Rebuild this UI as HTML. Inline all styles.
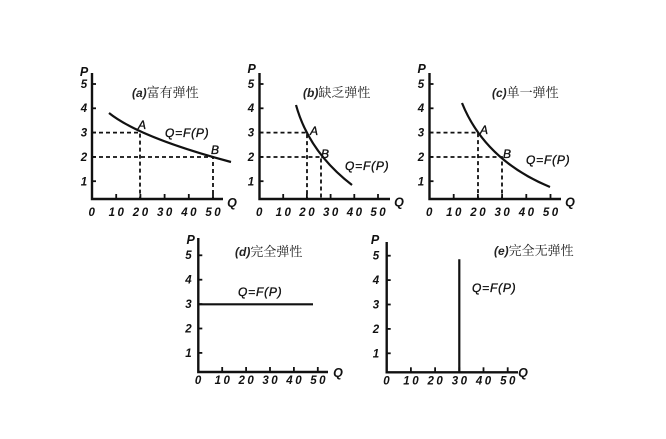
<!DOCTYPE html>
<html><head><meta charset="utf-8"><style>
html,body{margin:0;padding:0;background:#fff;}
svg{display:block;}
.t{font-family:"Liberation Sans",sans-serif;font-weight:bold;font-style:italic;font-size:11.5px;fill:#111;letter-spacing:2.5px;}
.ax{font-family:"Liberation Sans",sans-serif;font-weight:bold;font-style:italic;font-size:12.5px;fill:#111;}
.lb{font-family:"Liberation Sans",sans-serif;font-style:italic;font-size:12px;fill:#111;stroke:#111;stroke-width:0.35;letter-spacing:0.8px;}
.ti{font-family:"Noto Serif CJK SC","Liberation Serif",serif;font-size:13px;fill:#222;}
.ti tspan.p{font-family:"Liberation Sans",sans-serif;font-style:italic;font-weight:bold;font-size:12px;}
.axis{stroke:#111;stroke-width:2.4;fill:none;}
.tk{stroke:#111;stroke-width:1.8;}
.d{stroke:#111;stroke-width:1.8;stroke-dasharray:4 3;fill:none;}
.c{stroke:#111;stroke-width:2.2;fill:none;}
</style></head><body>
<svg width="666" height="439" viewBox="0 0 666 439" xmlns="http://www.w3.org/2000/svg">
<rect width="666" height="439" fill="#fff"/>

<!-- Chart (a) -->
<g>
<path class="axis" d="M92,73 V199 H223"/>
<g class="tk">
<line x1="116.2" y1="199" x2="116.2" y2="194"/><line x1="140.4" y1="199" x2="140.4" y2="194"/><line x1="164.6" y1="199" x2="164.6" y2="194"/><line x1="188.8" y1="199" x2="188.8" y2="194"/><line x1="213" y1="199" x2="213" y2="194"/>
<line x1="92" y1="84" x2="96" y2="84"/><line x1="92" y1="108.3" x2="96" y2="108.3"/><line x1="92" y1="132.6" x2="96" y2="132.6"/><line x1="92" y1="156.9" x2="96" y2="156.9"/><line x1="92" y1="181.2" x2="96" y2="181.2"/>
</g>
<g class="t" text-anchor="middle">
<text x="93" y="216">0</text><text x="117.5" y="216">10</text><text x="141.7" y="216">20</text><text x="165.9" y="216">30</text><text x="190.1" y="216">40</text><text x="214.3" y="216">50</text>
<text x="85.2" y="88">5</text><text x="85.2" y="112">4</text><text x="85.2" y="136.5">3</text><text x="85.2" y="161">2</text><text x="85.2" y="185.5">1</text>
</g>
<text class="ax" x="84" y="76" text-anchor="middle">P</text>
<text class="ax" x="232" y="207" text-anchor="middle">Q</text>
<path class="d" d="M92,132.6 H140 V199 M92,157 H213 V199"/>
<path class="c" d="M109,113 Q140,137.7 231,162"/>
<text class="ti" x="132" y="97"><tspan class="p">(a)</tspan>富有弹性</text>
<text class="lb" x="138" y="129">A</text>
<text class="lb" x="211" y="154">B</text>
<text class="lb" x="165" y="137">Q=F(P)</text>
</g>

<!-- Chart (b) -->
<g>
<path class="axis" d="M259.5,73 V199 H390"/>
<g class="tk">
<line x1="283.2" y1="199" x2="283.2" y2="194"/><line x1="306.9" y1="199" x2="306.9" y2="194"/><line x1="330.6" y1="199" x2="330.6" y2="194"/><line x1="354.3" y1="199" x2="354.3" y2="194"/><line x1="378" y1="199" x2="378" y2="194"/>
<line x1="259.5" y1="84" x2="263.5" y2="84"/><line x1="259.5" y1="108.3" x2="263.5" y2="108.3"/><line x1="259.5" y1="132.6" x2="263.5" y2="132.6"/><line x1="259.5" y1="156.9" x2="263.5" y2="156.9"/><line x1="259.5" y1="181.2" x2="263.5" y2="181.2"/>
</g>
<g class="t" text-anchor="middle">
<text x="260.5" y="216">0</text><text x="284.5" y="216">10</text><text x="308.2" y="216">20</text><text x="331.9" y="216">30</text><text x="355.6" y="216">40</text><text x="379.3" y="216">50</text>
<text x="252.2" y="88">5</text><text x="252.2" y="112">4</text><text x="252.2" y="136.5">3</text><text x="252.2" y="161">2</text><text x="252.2" y="185.5">1</text>
</g>
<text class="ax" x="251.7" y="73" text-anchor="middle">P</text>
<text class="ax" x="399" y="206.5" text-anchor="middle">Q</text>
<path class="d" d="M259.5,132.6 H307 V199 M259.5,157 H321 V199"/>
<path class="c" d="M296,105 Q309,152 352,185"/>
<text class="ti" x="303" y="97"><tspan class="p">(b)</tspan>缺乏弹性</text>
<text class="lb" x="310" y="135">A</text>
<text class="lb" x="321" y="158">B</text>
<text class="lb" x="345" y="170">Q=F(P)</text>
</g>

<!-- Chart (c) -->
<g>
<path class="axis" d="M429.5,73 V199 H561"/>
<g class="tk">
<line x1="453.7" y1="199" x2="453.7" y2="194"/><line x1="477.9" y1="199" x2="477.9" y2="194"/><line x1="502.1" y1="199" x2="502.1" y2="194"/><line x1="526.3" y1="199" x2="526.3" y2="194"/><line x1="550.5" y1="199" x2="550.5" y2="194"/>
<line x1="429.5" y1="84" x2="433.5" y2="84"/><line x1="429.5" y1="108.3" x2="433.5" y2="108.3"/><line x1="429.5" y1="132.6" x2="433.5" y2="132.6"/><line x1="429.5" y1="156.9" x2="433.5" y2="156.9"/><line x1="429.5" y1="181.2" x2="433.5" y2="181.2"/>
</g>
<g class="t" text-anchor="middle">
<text x="430.5" y="216">0</text><text x="455" y="216">10</text><text x="479.2" y="216">20</text><text x="503.4" y="216">30</text><text x="527.6" y="216">40</text><text x="551.8" y="216">50</text>
<text x="422.2" y="88">5</text><text x="422.2" y="112">4</text><text x="422.2" y="136.5">3</text><text x="422.2" y="161">2</text><text x="422.2" y="185.5">1</text>
</g>
<text class="ax" x="421.7" y="73" text-anchor="middle">P</text>
<text class="ax" x="570" y="206.5" text-anchor="middle">Q</text>
<path class="d" d="M429.5,132.6 H478 V199 M429.5,157 H502 V199"/>
<path class="c" d="M462,103 Q485,160 550,187"/>
<text class="ti" x="492" y="97"><tspan class="p">(c)</tspan>单一弹性</text>
<text class="lb" x="480" y="134">A</text>
<text class="lb" x="503" y="158">B</text>
<text class="lb" x="526" y="164">Q=F(P)</text>
</g>

<!-- Chart (d) -->
<g>
<path class="axis" d="M198.3,238 V372 H328"/>
<g class="tk">
<line x1="222.2" y1="372" x2="222.2" y2="367"/><line x1="246.1" y1="372" x2="246.1" y2="367"/><line x1="270" y1="372" x2="270" y2="367"/><line x1="293.9" y1="372" x2="293.9" y2="367"/><line x1="317.8" y1="372" x2="317.8" y2="367"/>
<line x1="198.3" y1="255.3" x2="202.3" y2="255.3"/><line x1="198.3" y1="279.7" x2="202.3" y2="279.7"/><line x1="198.3" y1="304.1" x2="202.3" y2="304.1"/><line x1="198.3" y1="328.5" x2="202.3" y2="328.5"/><line x1="198.3" y1="352.9" x2="202.3" y2="352.9"/>
</g>
<g class="t" text-anchor="middle">
<text x="199.3" y="384">0</text><text x="223.5" y="384">10</text><text x="247.4" y="384">20</text><text x="271.3" y="384">30</text><text x="295.2" y="384">40</text><text x="319.1" y="384">50</text>
<text x="189.7" y="259">5</text><text x="189.7" y="283.5">4</text><text x="189.7" y="308">3</text><text x="189.7" y="332.5">2</text><text x="189.7" y="357">1</text>
</g>
<text class="ax" x="190.7" y="244" text-anchor="middle">P</text>
<text class="ax" x="338" y="377" text-anchor="middle">Q</text>
<line class="c" x1="198.3" y1="304.3" x2="313" y2="304.3"/>
<text class="ti" x="235" y="256"><tspan class="p">(d)</tspan>完全弹性</text>
<text class="lb" x="238" y="296">Q=F(P)</text>
</g>

<!-- Chart (e) -->
<g>
<path class="axis" d="M386.7,242 V372.3 H518"/>
<g class="tk">
<line x1="410.9" y1="372.3" x2="410.9" y2="367.3"/><line x1="435.1" y1="372.3" x2="435.1" y2="367.3"/><line x1="459.3" y1="372.3" x2="459.3" y2="367.3"/><line x1="483.5" y1="372.3" x2="483.5" y2="367.3"/><line x1="507.7" y1="372.3" x2="507.7" y2="367.3"/>
<line x1="386.7" y1="255.7" x2="390.7" y2="255.7"/><line x1="386.7" y1="280.1" x2="390.7" y2="280.1"/><line x1="386.7" y1="304.5" x2="390.7" y2="304.5"/><line x1="386.7" y1="328.9" x2="390.7" y2="328.9"/><line x1="386.7" y1="353.3" x2="390.7" y2="353.3"/>
</g>
<g class="t" text-anchor="middle">
<text x="387.7" y="384.5">0</text><text x="412.2" y="384.5">10</text><text x="436.4" y="384.5">20</text><text x="460.6" y="384.5">30</text><text x="484.8" y="384.5">40</text><text x="509" y="384.5">50</text>
<text x="377.2" y="259.5">5</text><text x="377.2" y="284">4</text><text x="377.2" y="308.5">3</text><text x="377.2" y="333">2</text><text x="377.2" y="357.5">1</text>
</g>
<text class="ax" x="375" y="244" text-anchor="middle">P</text>
<text class="ax" x="523" y="377" text-anchor="middle">Q</text>
<line class="c" x1="459.3" y1="259.3" x2="459.3" y2="372.3"/>
<text class="ti" x="494" y="255"><tspan class="p">(e)</tspan>完全无弹性</text>
<text class="lb" x="472" y="292">Q=F(P)</text>
</g>
</svg>
</body></html>
